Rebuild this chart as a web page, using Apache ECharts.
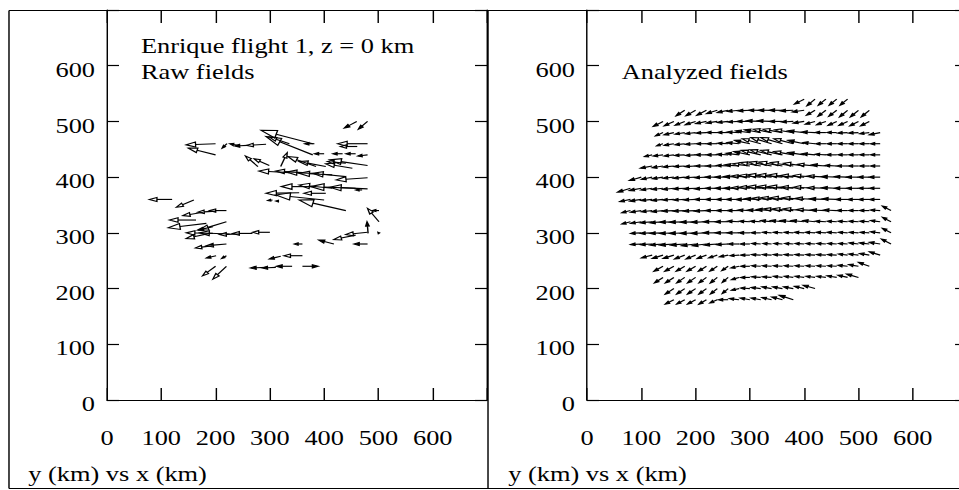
<!DOCTYPE html>
<html>
<head>
<meta charset="utf-8">
<script src="https://cdn.jsdelivr.net/npm/echarts@6/dist/echarts.min.js"></script>
<style>
html,body{margin:0;padding:0;background:#fff;overflow:hidden;}
#c{width:800px;height:490px;transform:scaleX(1.19875);transform-origin:0 0;}
</style>
</head>
<body>
<div id="c"></div>
<script>
// ---- data (km) ----
const axisTicks = [0, 100, 200, 300, 400, 500, 600];
const titleRaw = ['Enrique flight 1, z = 0 km', 'Raw fields'];
const titleAna = 'Analyzed fields';
const axisCaption = 'y (km) vs x (km)';

// Raw observations: [x tail, y tail, dx, dy]
const rawVectors = [
  [460,500,-23,-12],[480,500,-17,-14],[480,460,-55,0],[461,455,-31,0],[382,460,-18,0],
  [200,460,-54,-2],[200,440,-50,12],[221,460,-9,-8],[241,457,-15,3],[259,457,-24,-1],
  [293,459,-36,-2],[379,460,-95,24],[379,440,-86,33],[336,460,-37,12],[480,440,-18,-2],
  [458,442,-18,0],[434,442,-18,0],[400,442,-18,0],[480,421,-70,10],[440,425,-34,3],
  [452,416,-49,8],[385,419,-52,18],[403,419,-49,9],[320,419,12,25],[278,419,-23,19],
  [299,421,-28,12],[336,408,-56,3],[360,408,-49,3],[391,406,-60,3],[415,404,-61,3],
  [480,399,-58,-4],[440,401,-61,6],[470,377,-12,0],[385,383,-64,0],[415,380,-61,6],
  [458,380,-83,3],[480,379,-70,3],[403,371,-40,0],[354,372,-61,-1],[400,359,-89,9],
  [440,340,-86,19],[305,359,-9,-1],[317,357,-6,0],[120,360,-42,0],[160,359,-32,-13],
  [220,340,-31,0],[201,339,-34,-2],[177,337,-37,-6],[164,323,-49,0],[183,317,-70,-8],
  [220,320,-50,-15],[300,301,-32,0],[268,299,-37,0],[244,298,-37,-1],[226,298,-55,2],
  [195,299,-49,1],[189,299,-43,-9],[195,311,-28,-6],[220,280,-37,-3],[195,277,-32,-4],
  [201,259,-18,-4],[220,259,-9,-5],[200,240,-24,-17],[220,240,-25,-23],[293,238,-29,-1],
  [311,238,-25,-1],[341,240,-29,0],[360,259,-34,0],[320,258,-21,-5],[360,240,29,0],
  [360,280,-15,0],[418,280,-28,7],[480,280,-25,0],[480,301,-40,-4],[458,296,-40,-8],
  [481,299,-2,21],[501,320,-21,24],[501,340,-12,0],[501,299,-2,2]
];

// Analyzed grid (20 km spacing): row y, first x, and dx / dy per point
const anaRowY  = [540,520,500,480,460,440,420,400,380,360,340,320,300,280,260,240,220,200,180];
const anaRowX0 = [400,180,140,140,140,120,120,100, 80, 80, 80, 80,100,100,120,140,140,160,160];
const anaU = [
  [-18,-15,-14,-14,-14],
  [-16,-18,-18,-20,-20,-22,-22,-22,-24,-24,-24,-22,-16,-15,-15,-15,-15,-15],
  [-18,-18,-18,-19,-20,-20,-20,-21,-24,-26,-26,-24,-22,-20,-18,-17,-16,-16,-16,-16],
  [-14,-18,-18,-19,-19,-20,-20,-22,-26,-30,-34,-36,-34,-30,-24,-20,-18,-18,-18,-18,-20],
  [-12,-18,-18,-19,-19,-20,-20,-22,-28,-34,-38,-40,-36,-30,-22,-19,-18,-18,-18,-18,-18],
  [-14,-18,-18,-19,-19,-20,-20,-21,-24,-30,-36,-40,-40,-36,-30,-24,-20,-19,-18,-18,-18,-18],
  [-22,-20,-20,-20,-20,-21,-21,-22,-26,-32,-38,-42,-44,-42,-38,-32,-26,-22,-20,-19,-18,-18],
  [-22,-20,-20,-20,-21,-21,-22,-22,-24,-28,-34,-40,-44,-46,-46,-44,-40,-34,-28,-24,-22,-20,-20],
  [-24,-22,-21,-21,-21,-21,-22,-22,-22,-24,-28,-34,-40,-44,-46,-46,-44,-40,-34,-28,-24,-22,-20,-20],
  [-20,-21,-21,-21,-21,-21,-22,-22,-22,-22,-24,-26,-30,-36,-40,-42,-40,-36,-30,-26,-22,-20,-20,-20],
  [-16,-20,-20,-21,-21,-21,-22,-22,-22,-22,-22,-22,-24,-28,-34,-38,-38,-34,-28,-24,-20,-18,-18,-18,-16],
  [-16,-20,-22,-24,-26,-28,-28,-28,-26,-24,-22,-20,-20,-20,-22,-24,-24,-22,-20,-18,-18,-18,-18,-18,-16],
  [-20,-22,-24,-26,-28,-28,-28,-26,-24,-22,-20,-18,-17,-17,-17,-18,-18,-18,-18,-17,-17,-17,-18,-16],
  [-20,-22,-24,-26,-26,-26,-26,-24,-22,-20,-18,-17,-16,-16,-16,-17,-17,-17,-17,-17,-17,-18,-20,-18],
  [-20,-20,-20,-19,-18,-17,-16,-16,-17,-17,-17,-17,-17,-17,-17,-17,-17,-17,-17,-18,-18,-20],
  [-17,-17,-16,-16,-15,-14,-12,-15,-17,-17,-17,-17,-17,-17,-17,-17,-17,-18,-18,-20],
  [-16,-16,-15,-15,-14,-13,-11,-14,-17,-17,-17,-17,-17,-17,-17,-17,-18,-18,-22],
  [-16,-15,-15,-14,-13,-11,-14,-17,-18,-18,-18,-18,-18,-22],
  [-16,-15,-15,-14,-14,-18,-18,-18,-18,-18,-20,-26]
];
const anaV = [
  [-9,-12,-11,-11,-11],
  [-10,-10,-9,-6,-4,-2,-1,0,0,0,-1,-3,-9,-11,-11,-12,-12,-12],
  [-9,-8,-7,-6,-4,-3,-2,-1,0,1,1,0,-1,-3,-5,-6,-7,-7,-8,-8],
  [-6,-4,-3,-2,-1,0,0,1,3,5,6,6,5,3,1,0,0,-1,-1,-2,-4],
  [-4,-3,-2,-1,0,0,1,2,6,9,11,11,9,6,2,0,0,0,0,0,0],
  [-3,-2,-2,-1,-1,0,0,1,3,6,8,9,8,6,4,2,1,0,0,0,0,0],
  [-4,-3,-2,-1,-1,0,0,1,2,4,6,7,7,6,5,3,2,1,0,0,0,0],
  [-6,-4,-3,-2,-2,-1,-1,0,0,1,2,3,4,4,4,3,3,2,1,1,0,0,0],
  [-7,-4,-3,-2,-2,-1,-1,-1,0,0,0,1,2,3,3,3,2,2,1,1,0,0,0,0],
  [-4,-3,-2,-2,-1,-1,-1,0,0,0,0,0,1,2,3,3,3,2,1,1,0,0,0,0],
  [-4,-3,-2,-2,-1,-1,-1,-1,0,0,0,1,1,2,3,3,3,2,1,1,0,0,0,1,8],
  [-4,-3,-2,-2,-1,-1,-1,-1,0,0,1,1,1,2,2,2,2,2,1,1,1,1,1,2,8],
  [-1,-1,-1,-1,-1,-1,-1,0,0,0,0,0,1,1,1,1,1,1,1,1,1,1,2,8],
  [-1,-1,-2,-2,-2,-3,-3,-2,-1,0,0,1,1,1,1,1,1,1,1,1,2,2,3,9],
  [-5,-6,-6,-7,-7,-6,-5,-3,-1,0,1,1,1,1,1,1,1,1,2,2,3,6],
  [-9,-9,-9,-9,-9,-9,-8,-3,0,1,1,1,1,1,1,1,1,2,3,7],
  [-10,-10,-10,-10,-10,-10,-9,-4,0,1,1,2,2,2,2,2,3,4,6],
  [-10,-10,-10,-10,-10,-9,-3,1,2,3,3,3,4,6],
  [-8,-8,-8,-8,-6,0,2,3,3,4,5,8]
];
const gridStep = 20;

// ---- build ----
const anaVectors = [];
anaRowY.forEach((y, r) => {
  anaU[r].forEach((u, i) => {
    anaVectors.push([anaRowX0[r] + gridStep * i, y, u, anaV[r][i]]);
  });
});

function arrowItem(params, api) {
  const x = api.value(0), y = api.value(1), u = api.value(2), v = api.value(3);
  const p0 = api.coord([x, y]);
  const p1 = api.coord([x + u, y + v]);
  const dx = p1[0] - p0[0], dy = p1[1] - p0[1];
  const L = Math.sqrt(dx * dx + dy * dy);
  if (L < 0.01) return null;
  const ux = dx / L, uy = dy / L;
  const h = Math.min(L, 0.26 * L + 1.4), w = 0.075 * L + 0.6;
  const bx = p1[0] - ux * h, by = p1[1] - uy * h;
  const nx = -uy, ny = ux;
  const small = L < 14;
  return {
    type: 'group',
    children: [
      { type: 'line', shape: { x1: p0[0], y1: p0[1], x2: bx, y2: by },
        style: { stroke: '#000', lineWidth: 1.15 } },
      { type: 'polygon',
        shape: { points: [[p1[0], p1[1]], [bx + nx * w, by + ny * w], [bx - nx * w, by - ny * w]] },
        style: { fill: small ? '#000' : 'none', stroke: '#000', lineWidth: 1.1 } }
    ]
  };
}

const FONT = "'Liberation Serif', 'Times New Roman', serif";
const fmt = v => (axisTicks.indexOf(v) >= 0 ? String(v) : '');

function xAxes(gi) {
  return [
    { type: 'value', gridIndex: gi, position: 'bottom', min: 0, max: 700, interval: 100,
      axisLine: { show: true, onZero: false, lineStyle: { color: '#000', width: 1.2 } },
      axisTick: { show: true, inside: true, length: 12, lineStyle: { color: '#000', width: 1.2 } },
      axisLabel: { show: true, color: '#000', fontFamily: FONT, fontSize: 22, margin: 26, formatter: fmt },
      splitLine: { show: false } },
    { type: 'value', gridIndex: gi, position: 'top', min: 0, max: 700, interval: 100,
      axisLine: { show: true, onZero: false, lineStyle: { color: '#000', width: 1.2 } },
      axisTick: { show: true, inside: true, length: 13, lineStyle: { color: '#000', width: 1.2 } },
      axisLabel: { show: false }, splitLine: { show: false } }
  ];
}
function yAxes(gi) {
  return [
    { type: 'value', gridIndex: gi, position: 'left', min: 0, max: 700, interval: 100,
      axisLine: { show: true, onZero: false, lineStyle: { color: '#000', width: 1.2 } },
      axisTick: { show: true, inside: true, length: 10, lineStyle: { color: '#000', width: 1.2 } },
      axisLabel: { show: true, color: '#000', fontFamily: FONT, fontSize: 22, margin: 10,
                   verticalAlign: 'top', lineHeight: 7, formatter: fmt },
      splitLine: { show: false } },
    { type: 'value', gridIndex: gi, position: 'right', min: 0, max: 700, interval: 100,
      axisLine: { show: true, onZero: false, lineStyle: { color: '#000', width: 1.2 } },
      axisTick: { show: true, inside: true, length: 10, lineStyle: { color: '#000', width: 1.2 } },
      axisLabel: { show: false }, splitLine: { show: false } }
  ];
}

const chart = echarts.init(document.getElementById('c'), null, { renderer: 'svg', width: 800, height: 490 });
const txt = (x, y, s) => ({ type: 'text', x: x, y: y, silent: true,
  style: { text: s, fill: '#000', font: "22px " + FONT, verticalAlign: 'middle' } });
const ln = (x1, y1, x2, y2) => ({ type: 'line', silent: true, shape: { x1, y1, x2, y2 },
  style: { stroke: '#000', lineWidth: 1.2 } });

chart.setOption({
  animation: false,
  backgroundColor: '#fff',
  grid: [
    { left: 89.26, top: 10, width: 317, height: 390, containLabel: false, outerBoundsMode: 'none' },
    { left: 489.7, top: 10, width: 317, height: 390, containLabel: false, outerBoundsMode: 'none' }
  ],
  xAxis: [].concat(xAxes(0), xAxes(1)),
  yAxis: [].concat(yAxes(0), yAxes(1)),
  graphic: [
    ln(7.5, 10.5, 800, 10.5),
    ln(7.5, 488.5, 800, 488.5),
    ln(7.5, 10.5, 7.5, 488.5),
    ln(407.1, 10.5, 407.1, 488.5),
    txt(117.6, 45, titleRaw[0]),
    txt(117.6, 71, titleRaw[1]),
    txt(518.6, 71.5, titleAna),
    txt(23.6, 473, axisCaption),
    txt(424, 473, axisCaption)
  ],
  series: [
    { type: 'custom', xAxisIndex: 0, yAxisIndex: 0, renderItem: arrowItem, data: rawVectors,
      silent: true, animation: false },
    { type: 'custom', xAxisIndex: 2, yAxisIndex: 2, renderItem: arrowItem, data: anaVectors,
      silent: true, animation: false }
  ]
});
</script>
</body>
</html>
